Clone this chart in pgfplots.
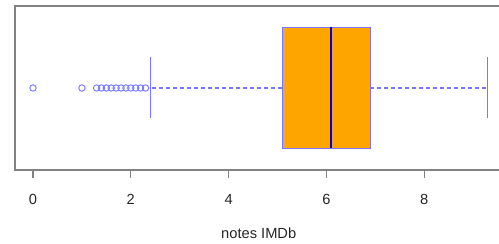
\documentclass[border=0pt]{standalone}
\usepackage{pgfplots}
\pgfplotsset{compat=1.18}
\usepgfplotslibrary{statistics}
\usepackage{fontspec}
\setmainfont{Liberation Sans}
\definecolor{boxorange}{HTML}{FFA500}
\definecolor{lblue}{RGB}{120,120,255}
\definecolor{framegray}{RGB}{130,130,130}
\begin{document}
\begin{tikzpicture}
\begin{axis}[
  scale only axis,
  width=365.6pt, height=123pt,
  xmin=-0.368, xmax=9.6,
  ymin=-0.82, ymax=0.82,
  ytick=\empty,
  xtick={0,2,4,6,8},
  xtick pos=bottom,
  tick align=outside,
  major tick length=6pt,
  axis line style={framegray, line width=0.9pt},
  every tick/.style={framegray, line width=0.9pt},
  /pgf/number format/assume math mode=true,
  tick label style={font=\fontsize{11}{13}\selectfont, text=black!85},
  x tick label style={yshift=-8.5pt},
  xlabel={notes IMDb},
  xlabel style={font=\fontsize{11}{13}\selectfont, text=black!85, yshift=-11pt},
  boxplot/draw direction=x,
  boxplot/draw/box/.code={%
    \draw[fill=boxorange, draw=lblue, line width=0.8pt]
      (boxplot box cs:\pgfplotsboxplotvalue{lower quartile},0) rectangle
      (boxplot box cs:\pgfplotsboxplotvalue{upper quartile},1);},
  boxplot/draw/median/.code={%
    \draw[blue, line width=1.5pt]
      (boxplot box cs:\pgfplotsboxplotvalue{median},0) --
      (boxplot box cs:\pgfplotsboxplotvalue{median},1);},
  boxplot/draw/lower whisker/.code={%
    \draw[lblue, line width=0.85pt, dash pattern=on 3pt off 2.25pt]
      (boxplot cs:\pgfplotsboxplotvalue{lower quartile}) --
      (boxplot cs:\pgfplotsboxplotvalue{lower whisker});
    \draw[lblue, line width=0.8pt]
      (boxplot whisker cs:\pgfplotsboxplotvalue{lower whisker},0) --
      (boxplot whisker cs:\pgfplotsboxplotvalue{lower whisker},1);},
  boxplot/draw/upper whisker/.code={%
    \draw[lblue, line width=0.85pt, dash pattern=on 3pt off 2.25pt]
      (boxplot cs:\pgfplotsboxplotvalue{upper quartile}) --
      (boxplot cs:\pgfplotsboxplotvalue{upper whisker});
    \draw[lblue, line width=0.8pt]
      (boxplot whisker cs:\pgfplotsboxplotvalue{upper whisker},0) --
      (boxplot whisker cs:\pgfplotsboxplotvalue{upper whisker},1);},
]
\addplot[lblue, mark=o, mark size=2.4pt, mark options={line width=0.7pt},
  boxplot prepared={
    lower whisker=2.4, lower quartile=5.1, median=6.1,
    upper quartile=6.9, upper whisker=9.3,
    draw position=0, box extend=1.21, whisker extend=0.61}]
  table[row sep=\\, y index=0] {
  0.0\\ 1.0\\ 1.3\\ 1.4\\ 1.5\\ 1.6\\ 1.7\\ 1.8\\ 1.9\\ 2.0\\ 2.1\\ 2.2\\ 2.3\\
  };
\end{axis}
\pgfresetboundingbox
\path[use as bounding box]
  ([xshift=-11.25pt, yshift=-55.5pt]current axis.south west) rectangle
  ([xshift=363pt, yshift=4.5pt]current axis.north west);
\end{tikzpicture}
\end{document}
